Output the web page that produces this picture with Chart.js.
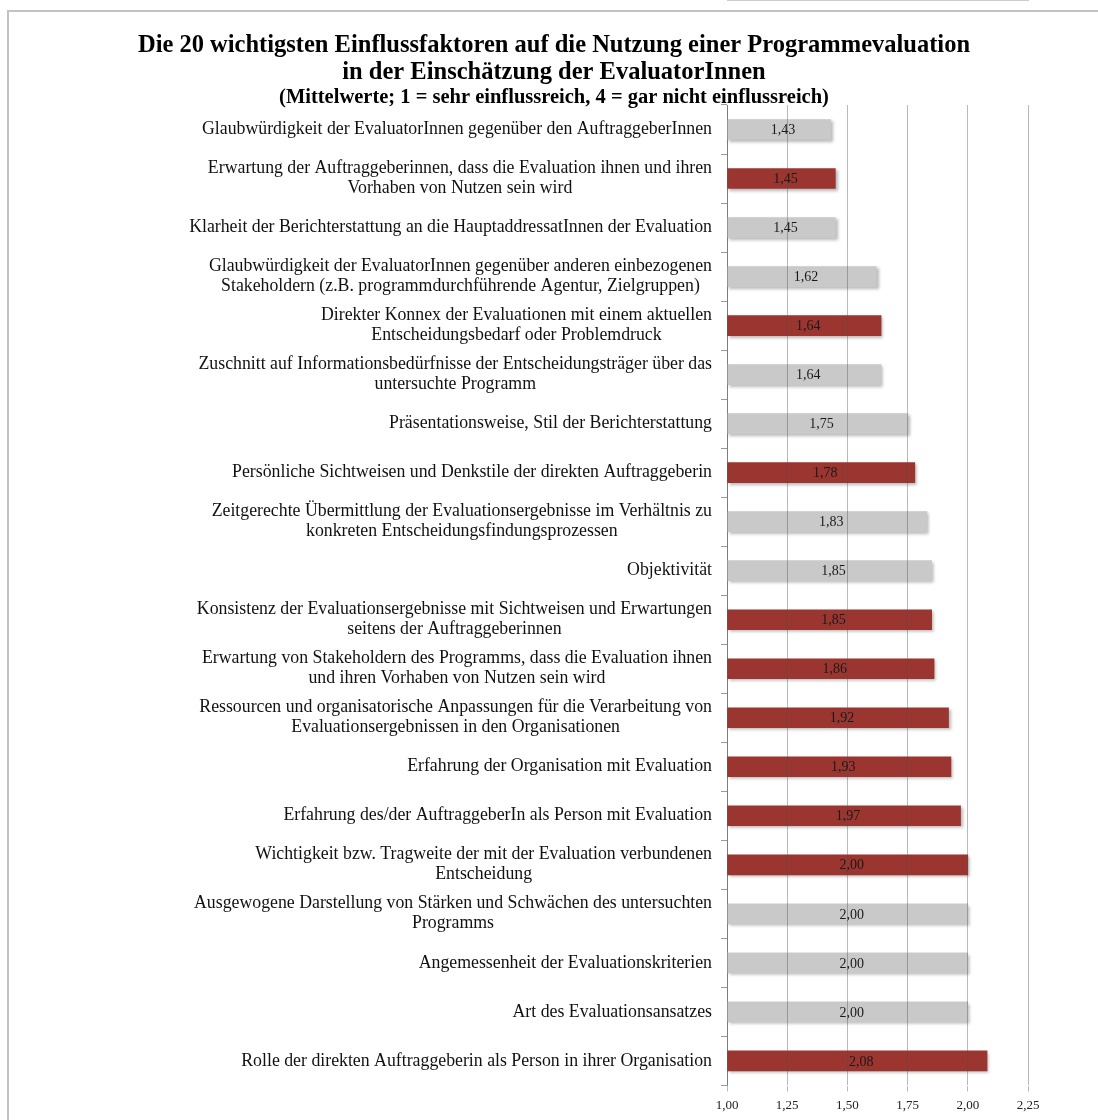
<!DOCTYPE html>
<html lang="de">
<head>
<meta charset="utf-8">
<title>Einflussfaktoren auf die Nutzung einer Programmevaluation</title>
<script src="https://cdn.jsdelivr.net/npm/chart.js@4.4.1/dist/chart.umd.min.js"></script>
<style>
    html, body { margin: 0; padding: 0; background: #fff; overflow: hidden; }
    #frame {
        position: absolute; left: 7px; top: 10px; width: 1300px; height: 1300px;
        border-left: 2px solid #c2c2c2; border-top: 2px solid #c2c2c2;
    }
    #wrap { position: absolute; left: 0; top: 0; width: 1098px; height: 1120px; }
</style>
</head>
<body>
<div id="frame"></div>
<div id="wrap"><canvas id="chart" width="1098" height="1120"></canvas></div>
<script>
const FONT = "'Liberation Serif', 'Times New Roman', serif";

const factors = [
    "Glaubwürdigkeit der EvaluatorInnen gegenüber den AuftraggeberInnen",
    ["Erwartung der Auftraggeberinnen, dass die Evaluation ihnen und ihren", "Vorhaben von Nutzen sein wird"],
    "Klarheit der Berichterstattung an die HauptaddressatInnen der Evaluation",
    ["Glaubwürdigkeit der EvaluatorInnen gegenüber anderen einbezogenen", "Stakeholdern (z.B. programmdurchführende Agentur, Zielgruppen)"],
    ["Direkter Konnex der Evaluationen mit einem aktuellen", "Entscheidungsbedarf oder Problemdruck"],
    ["Zuschnitt auf Informationsbedürfnisse der Entscheidungsträger über das", "untersuchte Programm"],
    "Präsentationsweise, Stil der Berichterstattung",
    "Persönliche Sichtweisen und Denkstile der direkten Auftraggeberin",
    ["Zeitgerechte Übermittlung der Evaluationsergebnisse im Verhältnis zu", "konkreten Entscheidungsfindungsprozessen"],
    "Objektivität",
    ["Konsistenz der Evaluationsergebnisse mit Sichtweisen und Erwartungen", "seitens der Auftraggeberinnen"],
    ["Erwartung von Stakeholdern des Programms, dass die Evaluation ihnen", "und ihren Vorhaben von Nutzen sein wird"],
    ["Ressourcen und organisatorische Anpassungen für die Verarbeitung von", "Evaluationsergebnissen in den Organisationen"],
    "Erfahrung der Organisation mit Evaluation",
    "Erfahrung des/der AuftraggeberIn als Person mit Evaluation",
    ["Wichtigkeit bzw. Tragweite der mit der Evaluation verbundenen", "Entscheidung"],
    ["Ausgewogene Darstellung von Stärken und Schwächen des untersuchten", "Programms"],
    "Angemessenheit der Evaluationskriterien",
    "Art des Evaluationsansatzes",
    "Rolle der direkten Auftraggeberin als Person in ihrer Organisation",
];

const means = [1.43, 1.45, 1.45, 1.62, 1.64, 1.64, 1.75, 1.78, 1.83, 1.85,
               1.85, 1.86, 1.92, 1.93, 1.97, 2.00, 2.00, 2.00, 2.00, 2.08];

// 1 = red (highlighted) bar, 0 = grey bar
const highlighted = [0, 1, 0, 0, 1, 0, 0, 1, 0, 0,
                     1, 1, 1, 1, 1, 1, 0, 0, 0, 1];

const xTicks = [1.00, 1.25, 1.50, 1.75, 2.00, 2.25];

const titleLines = [
    "Die 20 wichtigsten Einflussfaktoren auf die Nutzung einer Programmevaluation",
    "in der Einschätzung der EvaluatorInnen",
];
const subtitleText = "(Mittelwerte; 1 = sehr einflussreich, 4 = gar nicht einflussreich)";

const RED = "#9b3530";
const GREY = "#c9c9c9";

const fmt = (v) => v.toFixed(2).replace(".", ",");

// draws the category labels: block right-aligned to the axis, lines centred within the block
const factorLabels = {
    id: "factorLabels",
    afterDraw(chart) {
        const { ctx, scales } = chart;
        const y = scales.y;
        const right = chart.chartArea.left - 15;
        const lineH = 20;
        ctx.save();
        ctx.font = `17.8px ${FONT}`;
        ctx.fillStyle = "#111";
        ctx.textAlign = "center";
        ctx.textBaseline = "middle";
        factors.forEach((lab, i) => {
            const lines = Array.isArray(lab) ? lab : [lab];
            const widest = Math.max(...lines.map((l) => ctx.measureText(l).width));
            const cx = right - widest / 2;
            const cy = y.getPixelForValue(i);
            const top = cy - ((lines.length - 1) * lineH) / 2;
            lines.forEach((l, k) => ctx.fillText(l, cx, top + k * lineH));
        });
        ctx.restore();
    },
};

const valueLabels = {
    id: "valueLabels",
    afterDraw(chart) {
        const { ctx } = chart;
        const meta = chart.getDatasetMeta(0);
        ctx.save();
        ctx.font = `14px ${FONT}`;
        ctx.fillStyle = "#1a1a1a";
        ctx.textAlign = "center";
        ctx.textBaseline = "middle";
        meta.data.forEach((bar, i) => {
            const cx = (bar.base + bar.x) / 2 + 4;
            ctx.fillText(fmt(means[i]), cx, bar.y + 1);
        });
        ctx.restore();
    },
};

const barShadow = {
    id: "barShadow",
    beforeDatasetsDraw(chart) {
        const ctx = chart.ctx;
        ctx.save();
        ctx.shadowColor = "rgba(0,0,0,0.28)";
        ctx.shadowBlur = 3;
        ctx.shadowOffsetX = 2;
        ctx.shadowOffsetY = 2;
    },
    afterDatasetsDraw(chart) {
        chart.ctx.restore();
    },
};

new Chart(document.getElementById("chart"), {
    type: "bar",
    data: {
        labels: factors,
        datasets: [
            {
                data: means,
                base: 1,
                backgroundColor: highlighted.map((h) => (h ? RED : GREY)),
                borderWidth: 0,
                barThickness: 20,
            },
        ],
    },
    options: {
        indexAxis: "y",
        responsive: false,
        animation: false,
        layout: { padding: { left: 80, right: 70, top: 0, bottom: 1 } },
        plugins: {
            legend: { display: false },
            tooltip: { enabled: false },
            title: {
                display: true,
                text: titleLines,
                color: "#000",
                font: { family: FONT, size: 24.5, weight: "bold", lineHeight: "27px" },
                padding: { top: 32, bottom: 0 },
            },
            subtitle: {
                display: true,
                text: subtitleText,
                color: "#000",
                font: { family: FONT, size: 20.5, weight: "bold", lineHeight: "14px" },
                padding: { top: 5, bottom: 0 },
            },
        },
        scales: {
            x: {
                type: "linear",
                min: 1,
                max: 2.25,
                afterBuildTicks(scale) {
                    scale.ticks = xTicks.map((v) => ({ value: v }));
                },
                ticks: {
                    callback: (v) => fmt(v),
                    color: "#222",
                    font: { family: FONT, size: 13 },
                    padding: 6,
                },
                grid: {
                    color: "rgba(80,80,80,0.4)",
                    tickLength: 6,
                    z: 1,
                },
                border: { color: "#9a9a9a" },
            },
            y: {
                type: "category",
                position: "left",
                afterFit(scale) {
                    scale.width = 647;
                },
                ticks: { callback: () => "" },
                grid: {
                    offset: true,
                    drawOnChartArea: false,
                    tickLength: 6,
                    color: "#9a9a9a",
                },
                border: { color: "#9a9a9a" },
            },
        },
    },
    plugins: [barShadow, factorLabels, valueLabels],
});
</script>
</body>
</html>
